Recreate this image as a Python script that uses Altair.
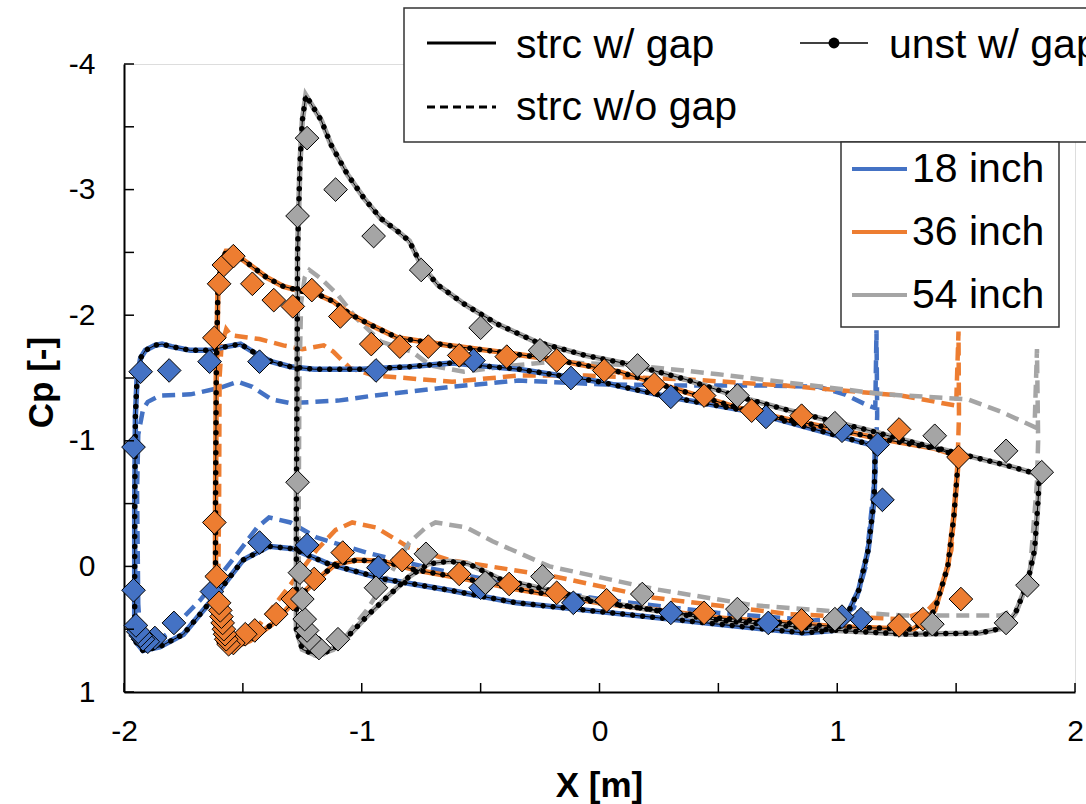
import altair as alt
import pandas as pd

CONFIGS = ["18 inch", "36 inch", "54 inch"]
COLORS = ["#4472C4", "#ED7D31", "#A5A5A5"]
SERIES_LABELS = ["strc w/ gap", "unst w/ gap", "strc w/o gap"]

# ---------------- strc w/ gap (solid, coloured) ----------------
b_gap_x = [-1.955, -1.955, -1.952, -1.945, -1.93, -1.91, -1.87, -1.84, -1.80, -1.72, -1.64, -1.57, -1.51, -1.45,
           -1.38, -1.30, -1.20, -1.00, -0.80, -0.62, -0.34, 0.00, 0.29, 0.64, 0.85, 1.06, 1.16,
           1.155, 1.13, 1.09, 1.03, 0.99, 0.86, 0.50, 0.00, -0.35, -0.63, -0.91, -1.14, -1.29, -1.39,
           -1.50, -1.61, -1.75, -1.85, -1.92, -1.95, -1.955]
b_gap_cp = [0.40, -0.50, -1.20, -1.50, -1.66, -1.72, -1.76, -1.77, -1.75, -1.72, -1.72, -1.75, -1.77, -1.70,
            -1.63, -1.59, -1.57, -1.57, -1.59, -1.62, -1.57, -1.47, -1.35, -1.23, -1.12, -1.01, -0.96,
            -0.53, -0.13, 0.19, 0.43, 0.51, 0.53, 0.46, 0.36, 0.29, 0.19, 0.10, -0.02, -0.14, -0.16,
            -0.05, 0.22, 0.54, 0.64, 0.67, 0.60, 0.40]

o_gap_x = [-1.615, -1.615, -1.612, -1.605, -1.59, -1.57, -1.55, -1.47, -1.40, -1.33, -1.25, -1.19, -1.12,
           -1.05, -0.97, -0.85, -0.64, -0.43, -0.20, 0.08, 0.36, 0.64, 0.92, 1.17, 1.41, 1.51,
           1.505, 1.49, 1.465, 1.41, 1.37, 1.32, 1.00, 0.50, 0.00, -0.35, -0.56, -0.77, -0.91, -1.02,
           -1.11, -1.19, -1.28, -1.37, -1.47, -1.56, -1.60, -1.615]
o_gap_cp = [0.45, -0.50, -1.50, -2.20, -2.42, -2.51, -2.51, -2.40, -2.30, -2.23, -2.19, -2.17, -2.11,
            -2.01, -1.93, -1.82, -1.76, -1.71, -1.65, -1.55, -1.39, -1.23, -1.12, -1.02, -0.94, -0.88,
            -0.75, -0.39, 0.00, 0.35, 0.43, 0.50, 0.48, 0.41, 0.29, 0.18, 0.10, 0.03, -0.04, -0.05,
            -0.02, 0.11, 0.27, 0.45, 0.59, 0.66, 0.60, 0.45]

g_gap_x = [-1.275, -1.275, -1.272, -1.27, -1.26, -1.25, -1.235, -1.225, -1.17, -1.13, -1.06, -0.99, -0.92,
           -0.85, -0.80, -0.75, -0.68, -0.57, -0.43, -0.27, -0.06, 0.15, 0.36, 0.57, 0.78, 0.99, 1.16,
           1.27, 1.51, 1.70, 1.85, 1.845, 1.83, 1.80, 1.75, 1.70, 1.60, 1.30, 1.00, 0.50, 0.00, -0.35,
           -0.42, -0.55, -0.63, -0.72, -0.80, -0.88, -0.97, -1.05, -1.12, -1.19, -1.25, -1.275]
g_gap_cp = [0.50, -0.50, -1.50, -2.50, -3.20, -3.55, -3.75, -3.72, -3.55, -3.36, -3.12, -2.93, -2.77,
            -2.67, -2.59, -2.40, -2.24, -2.09, -1.93, -1.79, -1.68, -1.60, -1.49, -1.36, -1.25, -1.15, -1.07,
            -1.01, -0.90, -0.81, -0.73, -0.53, -0.13, 0.13, 0.37, 0.49, 0.53, 0.54, 0.51, 0.43, 0.28, 0.13,
            0.10, -0.02, -0.04, -0.02, 0.08, 0.22, 0.38, 0.54, 0.66, 0.71, 0.66, 0.50]

# ---------------- strc w/o gap (dashed, coloured) ----------------
b_nogap_x = [-1.94, -1.945, -1.94, -1.92, -1.90, -1.85, -1.72, -1.60, -1.52, -1.46, -1.38, -1.30, -1.10,
             -0.95, -0.62, -0.34, 0.00, 0.36, 0.71, 0.92, 1.03, 1.13, 1.16, 1.165, 1.168, 1.16, 1.12,
             1.07, 1.01, 0.90, 0.50, 0.00, -0.35, -0.70, -0.98, -1.19, -1.30, -1.39, -1.44, -1.54,
             -1.68, -1.82, -1.90, -1.93, -1.94]
b_nogap_cp = [0.30, -0.60, -1.05, -1.25, -1.31, -1.36, -1.37, -1.42, -1.47, -1.43, -1.33, -1.30, -1.32,
              -1.36, -1.43, -1.48, -1.45, -1.44, -1.44, -1.43, -1.37, -1.28, -1.26, -1.88, -1.20, -0.75, 0.00,
              0.33, 0.41, 0.43, 0.37, 0.26, 0.15, 0.02, -0.11, -0.23, -0.35, -0.39, -0.31, -0.06,
              0.27, 0.54, 0.64, 0.60, 0.30]

o_nogap_x = [-1.605, -1.60, -1.598, -1.59, -1.57, -1.55, -1.43, -1.33, -1.25, -1.16, -1.12, -1.05, -0.95,
             -0.62, -0.34, -0.06, 0.36, 0.78, 1.27, 1.50, 1.51, 1.512, 1.505, 1.48, 1.43, 1.38, 1.27,
             0.80, 0.23, -0.19, -0.63, -0.80, -0.94, -1.04, -1.11, -1.19, -1.31, -1.41, -1.47, -1.53,
             -1.58, -1.605]
o_nogap_cp = [0.40, -0.50, -1.50, -1.75, -1.89, -1.84, -1.81, -1.76, -1.73, -1.76, -1.71, -1.58, -1.52,
              -1.47, -1.52, -1.52, -1.49, -1.44, -1.36, -1.28, -1.87, -1.20, -0.75, -0.13, 0.25, 0.35, 0.42,
              0.38, 0.25, 0.08, -0.05, -0.15, -0.31, -0.35, -0.29, -0.13, 0.17, 0.41, 0.57, 0.64,
              0.62, 0.40]

g_nogap_x = [-1.265, -1.265, -1.262, -1.255, -1.24, -1.22, -1.17, -1.10, -1.02, -0.92, -0.79, -0.71, -0.57,
             -0.36, -0.20, 0.15, 0.50, 0.85, 1.20, 1.55, 1.69, 1.83, 1.84, 1.845, 1.84, 1.81, 1.76, 1.69,
             1.27, 0.93, 0.65, 0.23, -0.21, -0.45, -0.56, -0.69, -0.73, -0.80, -0.88, -0.98, -1.08, -1.16,
             -1.22, -1.255, -1.265]
g_nogap_cp = [0.50, -0.50, -1.50, -2.10, -2.30, -2.36, -2.29, -2.16, -1.97, -1.79, -1.71, -1.60, -1.55,
              -1.60, -1.63, -1.60, -1.53, -1.45, -1.37, -1.33, -1.23, -1.11, -1.73, -1.00, -0.67, 0.05, 0.33, 0.39,
              0.39, 0.35, 0.31, 0.18, 0.00, -0.20, -0.31, -0.35, -0.31, -0.19, 0.06, 0.35, 0.59, 0.70,
              0.71, 0.60, 0.50]

# ---------------- experiment (diamonds) ----------------
b_exp_x = [-1.96, -1.93, -1.81, -1.64, -1.43, -0.94, -0.53, -0.12, 0.30, 0.70, 1.02, 1.17, 1.19, 1.10, 1.02,
           0.71, 0.30, -0.11, -0.50, -0.93, -1.23, -1.43, -1.63, -1.79, -1.87, -1.90, -1.92, -1.93, -1.94,
           -1.95, -1.96]
b_exp_cp = [-0.95, -1.55, -1.56, -1.63, -1.63, -1.56, -1.64, -1.50, -1.35, -1.19, -1.08, -0.97, -0.53, 0.42, 0.40,
            0.45, 0.37, 0.29, 0.17, 0.01, -0.17, -0.19, 0.20, 0.45, 0.57, 0.60, 0.58, 0.55, 0.52,
            0.47, 0.19]

o_exp_x = [-1.62, -1.62, -1.60, -1.58, -1.54, -1.46, -1.37, -1.29, -1.21, -1.09, -0.96, -0.84, -0.72, -0.59,
           -0.39, -0.18, 0.02, 0.23, 0.44, 0.64, 0.85, 1.26, 1.51, 1.52, 1.36, 1.26, 0.85, 0.44, 0.03,
           -0.18, -0.38, -0.59, -0.83, -1.08, -1.20, -1.29, -1.36, -1.45, -1.49, -1.54, -1.56, -1.57,
           -1.575, -1.58, -1.585, -1.59, -1.595, -1.60, -1.61]
o_exp_cp = [-0.35, -1.82, -2.25, -2.40, -2.47, -2.25, -2.12, -2.07, -2.20, -1.99, -1.77, -1.75, -1.75, -1.68,
            -1.67, -1.64, -1.56, -1.45, -1.36, -1.24, -1.20, -1.09, -0.87, 0.26, 0.42, 0.47, 0.43, 0.37, 0.27,
            0.21, 0.14, 0.06, -0.05, -0.11, 0.10, 0.26, 0.38, 0.51, 0.54, 0.61, 0.62, 0.58,
            0.54, 0.50, 0.45, 0.40, 0.35, 0.29, 0.08]

g_exp_x = [-1.27, -1.27, -1.23, -1.11, -0.95, -0.75, -0.50, -0.25, 0.16, 0.58, 0.99, 1.41, 1.71, 1.86,
           1.80, 1.71, 1.40, 0.99, 0.58, 0.18, -0.24, -0.48, -0.73, -0.94, -1.10, -1.18, -1.22, -1.23,
           -1.24, -1.25, -1.26]
g_exp_cp = [-0.67, -2.79, -3.41, -3.00, -2.63, -2.36, -1.90, -1.72, -1.60, -1.36, -1.14, -1.04, -0.92, -0.75,
            0.15, 0.45, 0.46, 0.42, 0.34, 0.22, 0.08, 0.13, -0.10, 0.17, 0.58, 0.65, 0.58, 0.51,
            0.42, 0.26, 0.05]

X_TICKS = [-2, -1.5, -1, -0.5, 0, 0.5, 1, 1.5, 2]
Y_TICKS = [-4, -3.5, -3, -2.5, -2, -1.5, -1, -0.5, 0, 0.5, 1]
X_LABELS = [-2, -1, 0, 1, 2]
Y_LABELS = [-4, -3, -2, -1, 0, 1]

# ---------------- tables ----------------
rows = []
def add(kind, cfg, xs, cps):
    for i, (x, c) in enumerate(zip(xs, cps)):
        rows.append({"kind": kind, "cfg": cfg, "i": i, "X": x, "Cp": c})

gap = [(b_gap_x, b_gap_cp), (o_gap_x, o_gap_cp), (g_gap_x, g_gap_cp)]
nogap = [(b_nogap_x, b_nogap_cp), (o_nogap_x, o_nogap_cp), (g_nogap_x, g_nogap_cp)]
for cfg, (xs, cs) in zip(CONFIGS, gap):
    add("gap", cfg, xs, cs)
for cfg, (xs, cs) in zip(CONFIGS, nogap):
    add("nogap", cfg, xs, cs)
lines = pd.DataFrame(rows)

erows = []
for cfg, xs, cs in zip(CONFIGS, [b_exp_x, o_exp_x, g_exp_x], [b_exp_cp, o_exp_cp, g_exp_cp]):
    for x, c in zip(xs, cs):
        erows.append({"cfg": cfg, "X": x, "Cp": c})
exp = pd.DataFrame(erows)

FONT = "Liberation Sans"
lab_expr = "datum.value < 0 ? '-' + abs(datum.value) : '' + datum.value"

x_axis = alt.Axis(values=X_LABELS, title="X [m]", titleFontSize=35, titleFontWeight="bold",
                  titleX=475, titleY=93, titleBaseline="middle", titleAlign="center",
                  labelFontSize=30, labelPadding=24, labelExpr=lab_expr, labelFlush=False,
                  grid=False, ticks=False, tickSize=0, domainWidth=2, domainColor="black",
                  labelColor="black", titleColor="black", labelFont=FONT, titleFont=FONT)
y_axis = alt.Axis(values=Y_LABELS, title="Cp [-]", titleFontSize=35, titleFontWeight="bold",
                  titleAngle=270, titleX=-83, titleY=318, titleBaseline="middle", titleAlign="center",
                  labelFontSize=30, labelPadding=29, labelExpr=lab_expr, labelFlush=False,
                  grid=False, ticks=False, tickSize=0, domainWidth=2, domainColor="black",
                  labelColor="black", titleColor="black", labelFont=FONT, titleFont=FONT)

xs = alt.Scale(domain=[-2, 2], nice=False, zero=False)
ys = alt.Scale(domain=[-4, 1], reverse=True, nice=False, zero=False)
X = alt.X("X:Q", scale=xs, axis=x_axis)
Y = alt.Y("Cp:Q", scale=ys, axis=y_axis)
COL = alt.Color("cfg:N", scale=alt.Scale(domain=CONFIGS, range=COLORS), legend=None)

W, H = 951, 628

dashed = alt.Chart(lines).transform_filter("datum.kind == 'nogap'").mark_line(
    strokeDash=[13, 7]).encode(x=X, y=Y, color=COL, order="i:Q",
                               strokeWidth=alt.value(4.5))
solid = alt.Chart(lines).transform_filter("datum.kind == 'gap'").mark_line().encode(
    x=X, y=Y, color=COL, order="i:Q", strokeWidth=alt.value(5.5))
unst_line = alt.Chart(lines).transform_filter("datum.kind == 'gap'").mark_line(color="black").encode(
    x=X, y=Y, detail="cfg:N", order="i:Q", strokeWidth=alt.value(1))
unst_dots = alt.Chart(lines).transform_filter("datum.kind == 'gap'").mark_line(
    color="black", strokeCap="round", strokeDash=[0.01, 10]).encode(
    x=X, y=Y, detail="cfg:N", order="i:Q", strokeWidth=alt.value(5.5))
diamonds = alt.Chart(exp).mark_point(shape="diamond", filled=True, size=560, stroke="black",
                                     strokeWidth=1, opacity=1).encode(x=X, y=Y, color=COL)

xt = alt.Chart(pd.DataFrame({"X": X_TICKS})).mark_rule(color="black", strokeWidth=1.5).encode(
    x=X, y=alt.value(H), y2=alt.value(H - 9))
yt = alt.Chart(pd.DataFrame({"Cp": Y_TICKS})).mark_rule(color="black", strokeWidth=1.5).encode(
    y=Y, x=alt.value(0), x2=alt.value(10))

one = alt.Data(values=[{"a": 1}])
def box(x1, x2, y1, y2):
    return alt.Chart(one).mark_rect(fill="white", stroke="#333333", strokeWidth=1.5).encode(
        x=alt.value(x1), x2=alt.value(x2), y=alt.value(y1), y2=alt.value(y2))
def seg(x1, x2, y, color, width, dash=None):
    kw = {"color": color, "strokeWidth": width}
    if dash:
        kw["strokeDash"] = dash
    return alt.Chart(one).mark_rule(**kw).encode(
        x=alt.value(x1), x2=alt.value(x2), y=alt.value(y))
def txt(s, x, y):
    return alt.Chart(one).mark_text(text=s, fontSize=41, font=FONT, align="left",
                                    baseline="alphabetic", color="black").encode(
        x=alt.value(x), y=alt.value(y))

legend = [
    box(280, 975, -56, 78),
    seg(303, 372, -21, "black", 3), txt(SERIES_LABELS[0], 392, -6),
    seg(676, 744, -21, "black", 1.5),
    alt.Chart(one).mark_point(shape="circle", filled=True, size=120, color="black", opacity=1).encode(
        x=alt.value(710), y=alt.value(-21)),
    txt(SERIES_LABELS[1], 765, -6),
    seg(303, 372, 43, "black", 3, [8, 5]), txt(SERIES_LABELS[2], 392, 56),
    box(717, 935, 78, 263),
]
for k, (cfg, c) in enumerate(zip(CONFIGS, COLORS)):
    legend.append(seg(728, 783, 105 + 63 * k, c, 4))
    legend.append(txt(cfg, 788, 118 + 63 * k))

chart = alt.layer(dashed, solid, unst_line, unst_dots, diamonds, xt, yt, *legend).properties(
    width=W, height=H, autosize=alt.AutoSizeParams(type="none"),
    padding={"left": 124, "top": 64, "right": 11, "bottom": 112}
).configure_view(stroke="black", strokeWidth=1.5).configure(font=FONT)

chart.save("out.html", embed_options={"renderer": "svg", "actions": False})
